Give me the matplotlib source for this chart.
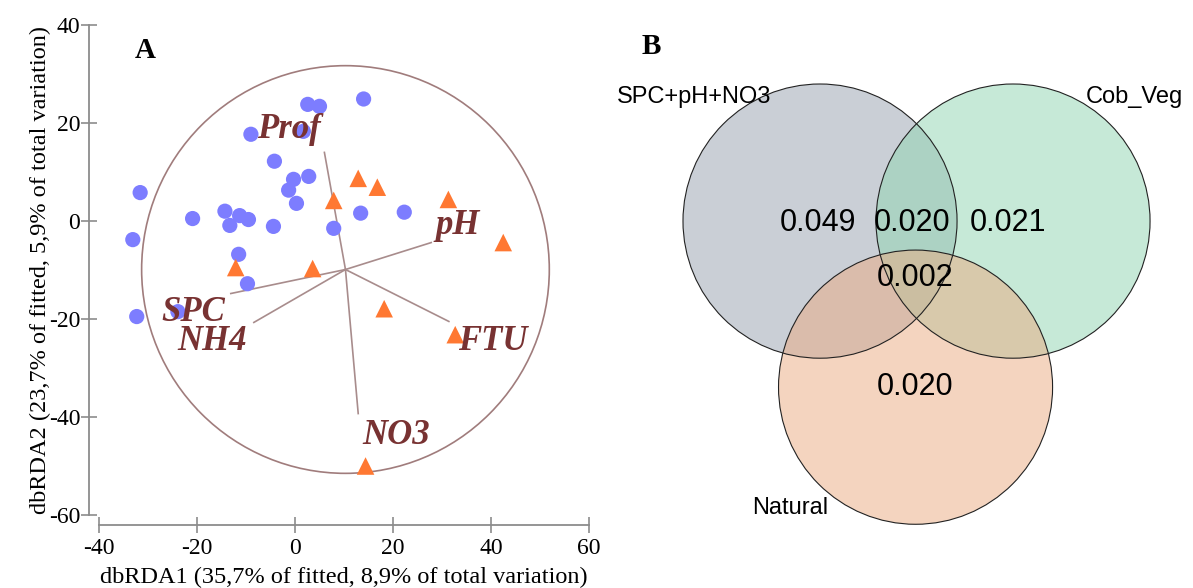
import matplotlib
matplotlib.use("Agg")
import matplotlib.pyplot as plt
from matplotlib.patches import Circle

plt.rcParams["axes.unicode_minus"] = False

# ---- panel A data (dbRDA ordination) ----
site_circ_x = [14.0, 2.6, 5.0, -9.0, 1.7, -4.2, -0.3, 2.8, -1.3, 0.3, -31.6, -20.9, -14.3,
               -11.3, -9.5, -13.3, -4.4, 7.9, 13.4, 22.3, -33.1, -11.5, -9.7, -32.3, -23.9]
site_circ_y = [24.9, 23.8, 23.4, 17.7, 18.3, 12.2, 8.5, 9.1, 6.3, 3.6, 5.8, 0.5, 2.0,
               1.1, 0.3, -0.9, -1.1, -1.5, 1.6, 1.8, -3.8, -6.8, -12.8, -19.5, -18.5]
site_tri_x = [12.9, 16.8, 7.9, 31.3, 42.5, -12.1, 3.6, 18.2, 32.7, 14.4]
site_tri_y = [8.7, 6.9, 4.2, 4.4, -4.4, -9.5, -9.7, -17.9, -23.2, -50.0]

vec_names = ["Prof", "pH", "SPC", "NH4", "FTU", "NO3"]
vec_x = [6.0, 27.8, -13.1, -8.4, 31.4, 12.9]
vec_y = [14.0, -4.4, -14.8, -20.7, -20.5, -39.3]
vec_lab_x = [-1.3, 33.1, -20.8, -17.0, 40.4, 20.7]
vec_lab_y = [18.7, -0.9, -18.7, -24.6, -24.6, -43.8]
origin = (10.3, -9.9)
circle_r = 41.6

# ---- panel B data (variation partitioning) ----
set_names = ["SPC+pH+NO3", "Cob_Veg", "Natural"]
region_labels = ["0.049", "0.020", "0.021", "0.002", "0.020"]

fig = plt.figure(figsize=(11.93, 5.88), dpi=100)
serif = "Liberation Serif"

ax = fig.add_axes([99 / 1193, 1 - 515 / 588, 490 / 1193, 490 / 588])
ax.set_xlim(-40, 60)
ax.set_ylim(-60, 40)

ax.add_patch(Circle(origin, circle_r, fill=False, ec="#a07c7c", lw=1.2, zorder=1))
for vx, vy in zip(vec_x, vec_y):
    ax.plot([origin[0], vx], [origin[1], vy], color="#a88c8c", lw=1.2, zorder=1)

ax.scatter(site_circ_x, site_circ_y, s=120, color="#7d7dff", edgecolors="none", zorder=2)
ax.scatter(site_tri_x, site_tri_y, s=160, marker="^", color="#ff7832", edgecolors="none", zorder=2)

for name, lx, ly in zip(vec_names, vec_lab_x, vec_lab_y):
    ax.text(lx, ly, name, ha="center", va="center", fontsize=25, fontweight="bold",
            fontstyle="italic", family=serif, color="#783232", zorder=3)

for side in ["top", "right"]:
    ax.spines[side].set_visible(False)
for side in ["left", "bottom"]:
    ax.spines[side].set_position(("outward", 7))
    ax.spines[side].set_color("#8c8c8c")
    ax.spines[side].set_linewidth(1.3)
ax.set_xticks([-40, -20, 0, 20, 40, 60])
ax.set_yticks([-60, -40, -20, 0, 20, 40])
ax.tick_params(direction="inout", length=11, width=1.2, color="#8c8c8c", labelsize=17)
ax.tick_params(axis="x", pad=4)
ax.tick_params(axis="y", pad=1)
for lab in ax.get_xticklabels() + ax.get_yticklabels():
    lab.set_family(serif)
ax.set_xlabel("dbRDA1 (35,7% of fitted, 8,9% of total variation)", family=serif, fontsize=17.5, labelpad=6)
ax.set_ylabel("dbRDA2 (23,7% of fitted, 5,9% of total variation)", family=serif, fontsize=17.5, labelpad=-2)

fig.text(145 / 1193, 1 - 50 / 588, "A", family=serif, fontweight="bold", fontsize=21, ha="center", va="center")
fig.text(651 / 1193, 1 - 47 / 588, "B", family=serif, fontweight="bold", fontsize=21, ha="center", va="center")

# ---- panel B: Venn diagram ----
bx = fig.add_axes([600 / 1193, 0, 593 / 1193, 1])
bx.set_xlim(-3.28, 2.865)
bx.set_ylim(-3.80, 2.29)
bx.axis("off")

centers = [(-1.0, 0.0), (1.0, 0.0), (-0.01, -1.72)]
radius = 1.42
fills = ["#97a1af", "#8fd5b1", "#ebab81"]
for c, col in zip(centers, fills):
    bx.add_patch(Circle(c, radius, color=col, alpha=0.5, lw=0))
for c in centers:
    bx.add_patch(Circle(c, radius, fill=False, ec="#222222", lw=0.8))

region_pos = [(-1.02, -0.02), (-0.05, -0.02), (0.95, -0.02), (-0.02, -0.59), (-0.02, -1.72)]
for txt, (px, py) in zip(region_labels, region_pos):
    bx.text(px, py, txt, ha="center", va="center", fontsize=22, family="Liberation Sans")

set_pos = [(-2.30, 1.285), (2.26, 1.285), (-1.31, -2.97)]
for name, (px, py) in zip(set_names, set_pos):
    bx.text(px, py, name, ha="center", va="center", fontsize=17, family="Liberation Sans")

fig.savefig("out.png", dpi=100)
